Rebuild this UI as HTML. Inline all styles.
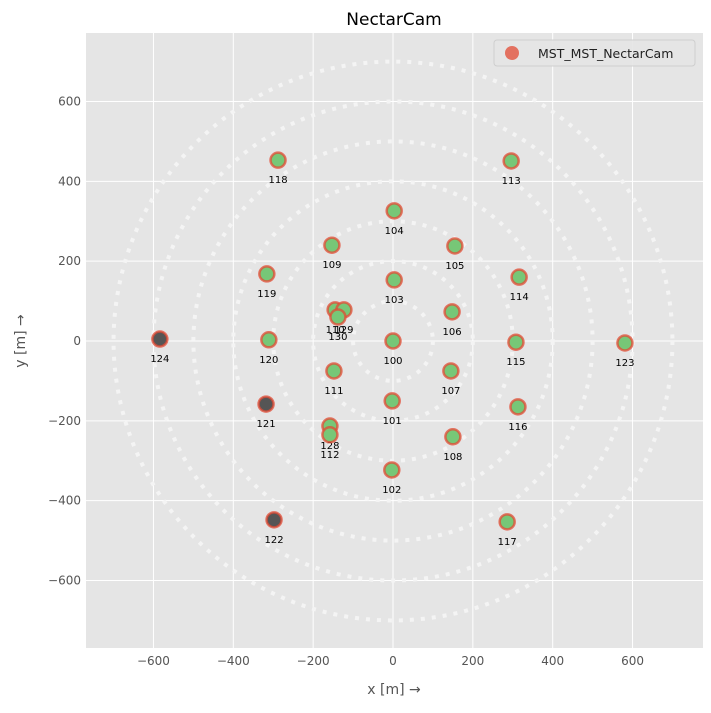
<!DOCTYPE html>
<html><head><meta charset="utf-8"><style>
body{margin:0;background:#fff;font-family:"Liberation Sans","DejaVu Sans",sans-serif}
</style></head><body>
<svg id="chart" width="711" height="708" xmlns="http://www.w3.org/2000/svg" font-family="DejaVu Sans, Liberation Sans, sans-serif">
<rect x="86" y="33" width="617" height="615" fill="#e5e5e5"/>
<g id="grid"></g><g id="rings"></g><g id="points"></g><g id="ticks"></g>
<text x="394" y="25" font-size="17" text-anchor="middle" fill="#000">NectarCam</text>
<text x="394" y="694" font-size="14" text-anchor="middle" fill="#555">x [m] →</text>
<text transform="translate(25,341) rotate(-90)" font-size="14" text-anchor="middle" fill="#555">y [m] →</text>
<g>
<rect x="494" y="40" width="201" height="26" rx="3" fill="#e5e5e5" stroke="#ccc" opacity="0.9"/>
<circle cx="512" cy="53" r="7" fill="#e24a33" opacity="0.75"/>
<text x="538" y="58" font-size="12.5" fill="#222">MST_MST_NectarCam</text>
</g>
</svg>
<script>
const tickVals=[-600,-400,-200,0,200,400,600];
const ringRadii=[100,200,300,400,500,600,700];
const ids=[100,101,102,103,104,105,106,107,108,109,110,129,130,111,128,112,113,114,115,116,117,118,119,120,121,122,123,124];
const xs=[0,-2,-3,3,3,155,148,145,150,-153,-145,-123,-138,-148,-158,-158,296,316,308,313,286,-288,-316,-311,-318,-298,581,-584];
const ys=[0,-150,-323,153,326,238,73,-75,-240,240,78,78,60,-75,-213,-235,451,160,-3,-165,-453,453,168,3,-158,-448,-5,5];
const inactive=[121,122,124];
const NS="http://www.w3.org/2000/svg";
const k=0.3992;
const X=v=>393+v*k, Y=v=>341-v*k;
function mk(t,a,p){const e=document.createElementNS(NS,t);for(const n in a)e.setAttribute(n,a[n]);p.appendChild(e);return e;}
const grid=document.getElementById('grid'),ticks=document.getElementById('ticks');
tickVals.forEach(v=>{
 const gx=mk('line',{x1:X(v),x2:X(v),y1:33,y2:648,stroke:'#fff','stroke-width':1},grid);
 
 
 const gy=mk('line',{x1:86,x2:703,y1:Y(v),y2:Y(v),stroke:'#fff','stroke-width':1},grid);
 
 
 const tx=mk('text',{x:X(v),y:665,'font-size':12,'text-anchor':'middle',fill:'#555'},ticks);
 tx.textContent=v<0?'\u2212'+(-v):v;
 
 
 const ty=mk('text',{x:81,y:Y(v)+4,'font-size':12,'text-anchor':'end',fill:'#555'},ticks);
 ty.textContent=v<0?'\u2212'+(-v):v;
 
 
});
const rings=document.getElementById('rings');
ringRadii.forEach(r=>{
 const c=mk('circle',{cx:X(0),cy:Y(0),r:r*k,fill:'none',stroke:'#f4f4f4','stroke-width':4,'stroke-dasharray':'4 7'},rings);
 
 
});
const pts=document.getElementById('points');
ids.forEach((id,i)=>{
 const g=mk('g',{},pts);
 
 
 const off=inactive.includes(id);
 mk('circle',{cx:X(xs[i]),cy:Y(ys[i]),r:7.5,fill:off?'#555':'#77c777',stroke:'#e24a33','stroke-opacity':0.75,'stroke-width':2.5},g);
 const t=mk('text',{x:X(xs[i]),y:Y(ys[i])+23,'font-size':10,'text-anchor':'middle',fill:'#000'},g);
 t.textContent=id;
});
</script>
</body></html>
